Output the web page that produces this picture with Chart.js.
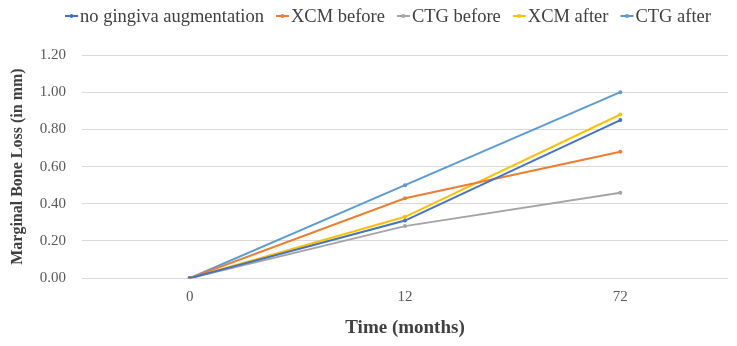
<!DOCTYPE html>
<html>
<head>
<meta charset="utf-8">
<script src="https://cdn.jsdelivr.net/npm/chart.js@4/dist/chart.umd.min.js"></script>
<style>
html,body{margin:0;padding:0;background:#fff;}
#wrap{width:737px;height:346px;}
</style>
</head>
<body>
<div id="wrap"><canvas id="c" width="737" height="346"></canvas></div>
<script>
const categories = ["0", "12", "72"];
const seriesNames = ["no gingiva augmentation", "XCM before", "CTG before", "XCM after", "CTG after"];
const noGingiva = [0.00, 0.31, 0.85];
const xcmBefore = [0.00, 0.43, 0.68];
const ctgBefore = [0.00, 0.28, 0.46];
const xcmAfter = [0.00, 0.33, 0.88];
const ctgAfter = [0.00, 0.50, 1.00];
const yTicks = [0, 0.2, 0.4, 0.6, 0.8, 1.0, 1.2];
const colors = ["#4472C4", "#ED7D31", "#A5A5A5", "#FFC000", "#5B9BD5"];
const values = [noGingiva, xcmBefore, ctgBefore, xcmAfter, ctgAfter];

const FONT = "'Liberation Serif', 'DejaVu Serif', serif";

const datasets = seriesNames.map((n, i) => ({
  label: n,
  data: values[i],
  borderColor: colors[i],
  backgroundColor: colors[i],
  borderWidth: 2,
  pointRadius: 2,
  pointHoverRadius: 2,
  pointBorderWidth: 0,
  tension: 0
}));

// Legend drawn as real canvas text, Excel-like: short line marker with dot, then label
const excelLegend = {
  id: 'excelLegend',
  afterDraw(chart) {
    const ctx = chart.ctx;
    const fontSize = 18.5;
    const markerW = 13, markerGap = 2, itemGap = 12;
    ctx.save();
    ctx.font = fontSize + "px " + FONT;
    ctx.textBaseline = 'middle';
    const items = chart.data.datasets.map(d => ({ d, w: ctx.measureText(d.label).width }));
    const total = items.reduce((s, it) => s + markerW + markerGap + it.w, 0) + itemGap * (items.length - 1);
    const centerX = 388;
    let x = centerX - total / 2;
    const y = 16;
    items.forEach(it => {
      ctx.strokeStyle = it.d.borderColor;
      ctx.lineWidth = 2;
      ctx.beginPath();
      ctx.moveTo(x, y);
      ctx.lineTo(x + markerW, y);
      ctx.stroke();
      ctx.fillStyle = it.d.borderColor;
      ctx.beginPath();
      ctx.arc(x + markerW / 2, y, 2, 0, Math.PI * 2);
      ctx.fill();
      x += markerW + markerGap;
      ctx.fillStyle = '#404040';
      ctx.textAlign = 'left';
      ctx.fillText(it.d.label, x, y + 1);
      x += it.w + itemGap;
    });
    ctx.restore();
  }
};

new Chart(document.getElementById('c'), {
  type: 'line',
  data: { labels: categories, datasets },
  plugins: [excelLegend],
  options: {
    responsive: false,
    animation: false,
    layout: { padding: { left: 8, right: 9, top: 55, bottom: 7 } },
    plugins: {
      tooltip: { enabled: false },
      legend: { display: false }
    },
    scales: {
      x: {
        type: 'category',
        offset: true,
        grid: { display: false, drawTicks: false },
        border: { display: false },
        ticks: { font: { family: FONT, size: 15 }, color: '#595959', padding: 10 },
        title: { display: true, text: 'Time (months)', font: { family: FONT, size: 19, weight: 'bold' }, color: '#404040', padding: { top: 0, bottom: 0 } }
      },
      y: {
        min: 0,
        max: 1.2,
        afterBuildTicks(scale) { scale.ticks = yTicks.map(v => ({ value: v })); },
        afterFit(scale) { scale.width = 74; },
        grid: { color: '#D9D9D9', lineWidth: 1, drawTicks: false },
        border: { display: false },
        ticks: { font: { family: FONT, size: 15 }, color: '#595959', padding: 16, callback: v => Number(v).toFixed(2) },
        title: { display: true, text: 'Marginal Bone Loss (in mm)', font: { family: FONT, size: 16, weight: 'bold' }, color: '#404040', padding: { top: 0, bottom: 4 } }
      }
    }
  }
});
</script>
</body>
</html>
